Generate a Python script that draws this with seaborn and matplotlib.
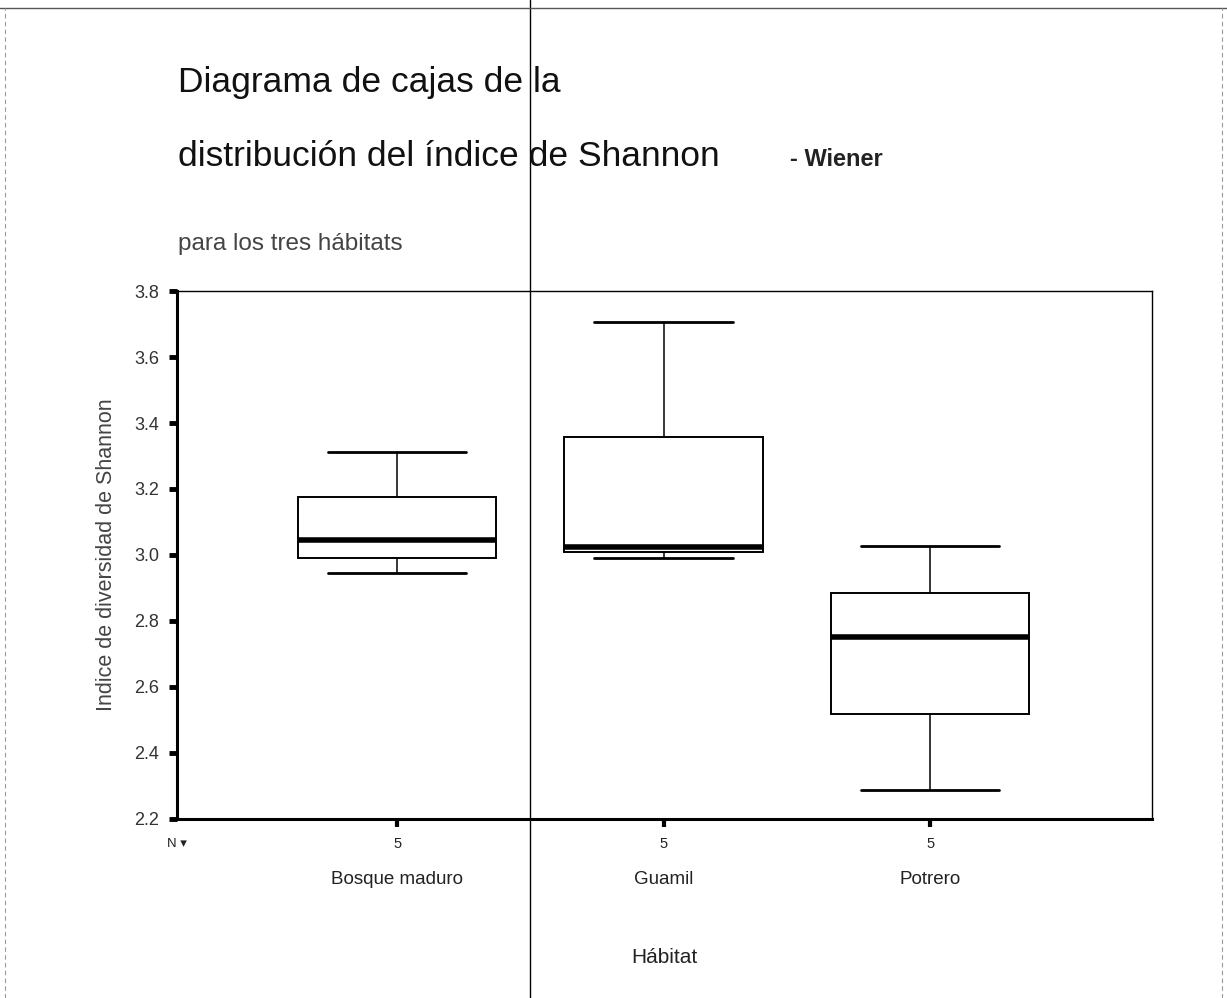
import numpy as np
import pandas as pd
import matplotlib
matplotlib.use("Agg")
import matplotlib.pyplot as plt
from matplotlib.lines import Line2D
from matplotlib.transforms import blended_transform_factory
import seaborn as sns

# ---- data (five-number summary per habitat, n = 5 each) ----
habitats = ["Bosque maduro", "Guamil", "Potrero"]
bosque_maduro = [2.945, 2.991, 3.045, 3.176, 3.312]
guamil = [2.991, 3.009, 3.024, 3.358, 3.706]
potrero = [2.288, 2.518, 2.752, 2.885, 3.027]
n_counts = ["5", "5", "5"]
y_ticks = [2.2, 2.4, 2.6, 2.8, 3.0, 3.2, 3.4, 3.6, 3.8]

df = pd.DataFrame({
    "Hábitat": np.repeat(habitats, 5),
    "Shannon": bosque_maduro + guamil + potrero,
})

sns.set_theme(style="white")
plt.rcParams["font.family"] = ["Liberation Sans", "DejaVu Sans"]

fig = plt.figure(figsize=(12.27, 9.98), dpi=100)
ax = fig.add_axes([0.1443, 0.1794, 0.7946, 0.529])

sns.boxplot(
    data=df, x="Hábitat", y="Shannon", order=habitats, ax=ax,
    color="white", linecolor="black", linewidth=1.3, width=0.745,
    whis=(0, 100), fliersize=0,
    boxprops=dict(facecolor="white", edgecolor="black", linewidth=1.4),
    medianprops=dict(color="black", linewidth=4.0),
    whiskerprops=dict(color="black", linewidth=1.1),
    capprops=dict(color="black", linewidth=2.0),
    capwidths=0.52,
)

ax.set_xlim(-0.826, 2.833)
ax.set_ylim(2.2, 3.8)
ax.set_yticks(y_ticks)
ax.set_yticklabels([f"{v:.1f}" for v in y_ticks], fontsize=13, color="#333333")
ax.set_xticks(range(len(habitats)))
ax.set_xticklabels(habitats, fontsize=13.5, color="#222222")

ax.tick_params(axis="y", direction="out", length=6, width=3.5, color="black", pad=7, left=True)
ax.tick_params(axis="x", direction="out", length=6, width=3, color="black", pad=31.5, bottom=True)

for side, lw in [("left", 2.2), ("bottom", 2.2), ("top", 1.0), ("right", 1.0)]:
    ax.spines[side].set_visible(True)
    ax.spines[side].set_color("black")
    ax.spines[side].set_linewidth(lw)

ax.set_ylabel("Indice de diversidad de Shannon", fontsize=15.5, color="#444444", labelpad=12)
ax.set_xlabel("Hábitat", fontsize=15, color="#222222", labelpad=43)

# N row under the axis
trans = blended_transform_factory(ax.transData, ax.transAxes)
for i, n in enumerate(n_counts):
    ax.text(i, -0.047, n, transform=trans, ha="center", va="center", fontsize=10.5, color="#222222")
ax.text(-0.826, -0.047, "N \u25be", transform=trans, ha="center", va="center", fontsize=9.5,
        color="#222222", family=["Liberation Sans", "DejaVu Sans"])

# Titles
fig.text(0.145, 0.9078, "Diagrama de cajas de la", fontsize=25.5, color="#111111", va="baseline")
fig.text(0.145, 0.8337, "distribución del índice de Shannon", fontsize=25.5, color="#111111", va="baseline")
fig.text(0.644, 0.8337, "- Wiener", fontsize=17, fontweight="bold", color="#222222", va="baseline")
fig.text(0.145, 0.7495, "para los tres hábitats", fontsize=17.5, color="#444444", va="baseline")

# scan artifacts: page border and fold line
fig.add_artist(Line2D([530 / 1227, 530 / 1227], [0, 1], color="black", linewidth=1.0,
                      transform=fig.transFigure))
fig.add_artist(Line2D([0, 1], [1 - 8 / 998, 1 - 8 / 998], color="#555555", linewidth=1.0,
                      transform=fig.transFigure))
fig.add_artist(Line2D([5 / 1227, 5 / 1227], [0, 1 - 8 / 998], color="#999999", linewidth=0.8,
                      linestyle=(0, (4, 3)), transform=fig.transFigure))
fig.add_artist(Line2D([1222 / 1227, 1222 / 1227], [0, 1 - 8 / 998], color="#999999", linewidth=0.8,
                      linestyle=(0, (4, 3)), transform=fig.transFigure))

fig.savefig("out.png", dpi=100, facecolor="white")
